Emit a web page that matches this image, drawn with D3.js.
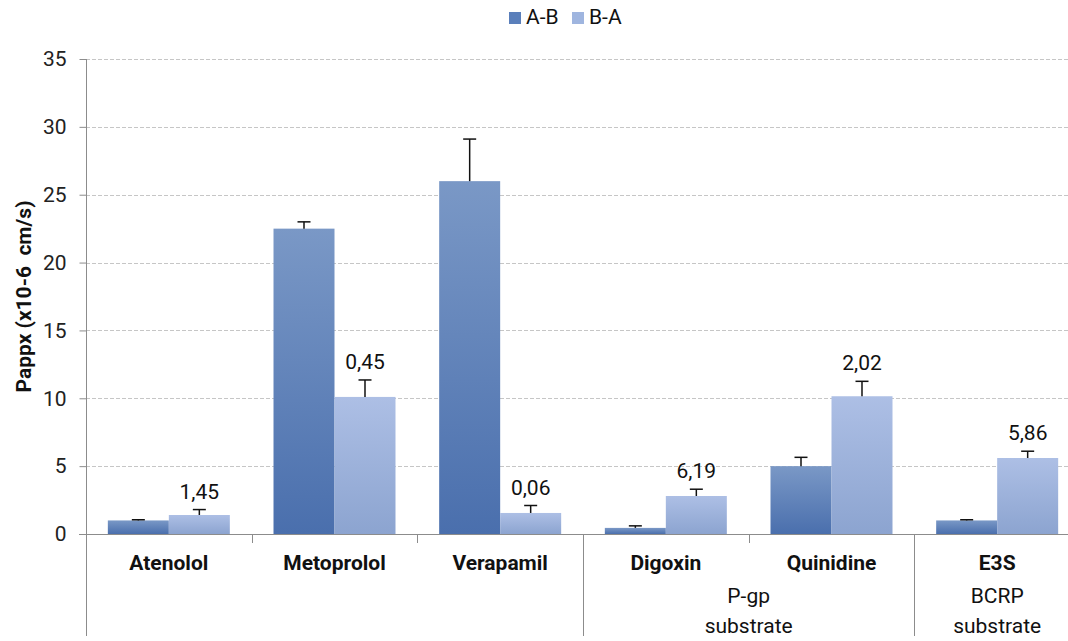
<!DOCTYPE html>
<html>
<head>
<meta charset="utf-8">
<title>Pappx</title>
<script src="https://d3js.org/d3.v7.min.js"></script>
<style>
  body { margin: 0; background: #fff; }
  svg { display: block; font-family: Roboto, "Noto Sans", sans-serif; }
</style>
</head>
<body>
<div id="chart"></div>
<script>
// chart data
var categories = ["Atenolol", "Metoprolol", "Verapamil", "Digoxin", "Quinidine", "E3S"];
var seriesNames = ["A-B", "B-A"];
var valuesAB = [1.0, 22.5, 26.0, 0.45, 5.0, 1.0];
var errorsAB = [0.05, 0.5, 3.1, 0.15, 0.65, 0.05];
var valuesBA = [1.4, 10.1, 1.55, 2.8, 10.15, 5.6];
var errorsBA = [0.4, 1.25, 0.55, 0.5, 1.1, 0.5];
var ratioLabels = ["1,45", "0,45", "0,06", "6,19", "2,02", "5,86"];
var groups = [
  { from: 0, to: 3, lines: [] },
  { from: 3, to: 5, lines: ["P-gp", "substrate"] },
  { from: 5, to: 6, lines: ["BCRP", "substrate"] }
];
var yTicks = [0, 5, 10, 15, 20, 25, 30, 35];

var width = 1068, height = 641;
var plotLeft = 86, plotRight = 1080, plotTop = 59, plotBottom = 534;
var fontSize = "21px";

var svg = d3.select("#chart").append("svg")
  .attr("width", width)
  .attr("height", height);

var defs = svg.append("defs");
function grad(id, c1, c2) {
  var g = defs.append("linearGradient").attr("id", id)
    .attr("x1", 0).attr("y1", 0).attr("x2", 0).attr("y2", 1);
  g.append("stop").attr("offset", "0%").attr("stop-color", c1);
  g.append("stop").attr("offset", "100%").attr("stop-color", c2);
}
grad("gAB", "#7a98c6", "#4a6fad");
grad("gBA", "#adbfe5", "#8ca4d0");
var fills = ["url(#gAB)", "url(#gBA)"];
var legendColors = ["#5a7fbb", "#9fb5df"];

var x = d3.scaleBand().domain(categories).range([plotLeft, plotRight]).padding(0);
var xs = d3.scaleBand().domain(seriesNames).range([0, x.bandwidth()])
  .paddingInner(0).paddingOuter(0.358);
var y = d3.scaleLinear().domain([0, 35]).range([plotBottom, plotTop]);

// gridlines
svg.append("g")
  .selectAll("line")
  .data(yTicks.filter(function(d) { return d > 0; }))
  .enter().append("line")
  .attr("x1", plotLeft).attr("x2", width)
  .attr("y1", function(d) { return Math.round(y(d)) + 0.5; })
  .attr("y2", function(d) { return Math.round(y(d)) + 0.5; })
  .attr("stroke", "#c6c6c6")
  .attr("stroke-dasharray", "4,2");

// y axis
var yAxis = svg.append("g")
  .attr("transform", "translate(" + (plotLeft + 0.5) + ",0)")
  .call(d3.axisLeft(y).tickValues(yTicks).tickSize(7).tickPadding(13));
yAxis.select(".domain").remove();
yAxis.selectAll("line").attr("stroke", "#8c8c8c");
yAxis.selectAll("text").attr("fill", "#222").style("font-size", fontSize)
  .style("font-family", "Roboto, sans-serif");

// bars
var rows = categories.map(function(c, i) {
  return [
    { cat: c, s: "A-B", v: valuesAB[i], e: errorsAB[i], k: 0 },
    { cat: c, s: "B-A", v: valuesBA[i], e: errorsBA[i], k: 1, label: ratioLabels[i] }
  ];
});
var flat = [].concat.apply([], rows);

svg.append("g").selectAll("rect")
  .data(flat)
  .enter().append("rect")
  .attr("x", function(d) { return x(d.cat) + xs(d.s); })
  .attr("width", xs.bandwidth())
  .attr("y", function(d) { return y(d.v); })
  .attr("height", function(d) { return y(0) - y(d.v); })
  .attr("fill", function(d) { return fills[d.k]; });

// error bars
var eb = svg.append("g").selectAll("g")
  .data(flat)
  .enter().append("g")
  .attr("transform", function(d) {
    return "translate(" + (x(d.cat) + xs(d.s) + xs.bandwidth() / 2) + ",0)";
  });
eb.append("line")
  .attr("x1", 0).attr("x2", 0)
  .attr("y1", function(d) { return y(d.v); })
  .attr("y2", function(d) { return y(d.v + d.e); })
  .attr("stroke", "#111").attr("stroke-width", 1.5);
eb.append("line")
  .attr("x1", -6.5).attr("x2", 6.5)
  .attr("y1", function(d) { return y(d.v + d.e); })
  .attr("y2", function(d) { return y(d.v + d.e); })
  .attr("stroke", "#111").attr("stroke-width", 1.5);

// ratio labels
svg.append("g").selectAll("text")
  .data(flat.filter(function(d) { return d.label; }))
  .enter().append("text")
  .attr("x", function(d) { return x(d.cat) + xs(d.s) + xs.bandwidth() / 2; })
  .attr("y", function(d) { return y(d.v + d.e) - 11; })
  .attr("text-anchor", "middle")
  .style("font-size", fontSize)
  .attr("fill", "#111")
  .text(function(d) { return d.label; });

// axes lines
svg.append("line")
  .attr("x1", plotLeft - 7).attr("x2", width)
  .attr("y1", plotBottom + 0.5).attr("y2", plotBottom + 0.5)
  .attr("stroke", "#8c8c8c");
svg.append("line")
  .attr("x1", plotLeft + 0.5).attr("x2", plotLeft + 0.5)
  .attr("y1", plotTop).attr("y2", 636)
  .attr("stroke", "#8c8c8c");

// category boundary ticks
svg.append("g").selectAll("line")
  .data(d3.range(1, categories.length))
  .enter().append("line")
  .attr("x1", function(i) { return Math.round(x(categories[i])) + 0.5; })
  .attr("x2", function(i) { return Math.round(x(categories[i])) + 0.5; })
  .attr("y1", plotBottom)
  .attr("y2", function(i) {
    return groups.some(function(g) { return g.from === i; }) ? 636 : plotBottom + 9;
  })
  .attr("stroke", "#8c8c8c");

// category labels
svg.append("g").selectAll("text")
  .data(categories)
  .enter().append("text")
  .attr("x", function(d) { return x(d) + x.bandwidth() / 2; })
  .attr("y", 570)
  .attr("text-anchor", "middle")
  .style("font-size", fontSize)
  .style("font-weight", "bold")
  .attr("fill", "#111")
  .text(function(d) { return d; });

// group labels
groups.forEach(function(g) {
  var cx = (x(categories[g.from]) + x(categories[g.to - 1]) + x.bandwidth()) / 2;
  g.lines.forEach(function(t, j) {
    svg.append("text")
      .attr("x", cx)
      .attr("y", 603 + j * 30)
      .attr("text-anchor", "middle")
      .style("font-size", fontSize)
      .attr("fill", "#111")
      .text(t);
  });
});

// y axis title
svg.append("text")
  .attr("transform", "translate(31," + ((plotTop + plotBottom) / 2) + ") rotate(-90)")
  .attr("text-anchor", "middle")
  .style("font-size", fontSize)
  .style("font-weight", "bold")
  .attr("fill", "#111")
  .style("white-space", "pre")
  .text("Pappx (x10-6  cm/s)");

// legend
var legend = svg.append("g").selectAll("g")
  .data(seriesNames)
  .enter().append("g")
  .attr("transform", function(d, i) { return "translate(" + (509 + i * 63) + ",12)"; });
legend.append("rect")
  .attr("width", 12).attr("height", 12)
  .attr("fill", function(d, i) { return legendColors[i]; });
legend.append("text")
  .attr("x", 17).attr("y", 12)
  .style("font-size", fontSize)
  .attr("fill", "#111")
  .text(function(d) { return d; });
</script>
</body>
</html>
